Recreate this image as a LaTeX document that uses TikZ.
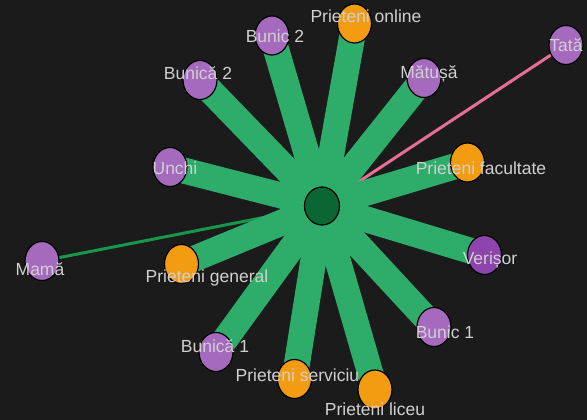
\documentclass[tikz,border=0pt]{standalone}
\usepackage{fontspec}
\setmainfont{Liberation Sans}
\usetikzlibrary{shapes.geometric}
\pgfdeclarelayer{bg}
\pgfdeclarelayer{edges}
\pgfsetlayers{bg,edges,main}
\definecolor{bgc}{RGB}{27,27,27}
\definecolor{band}{RGB}{46,173,106}
\definecolor{hub}{RGB}{10,102,50}
\definecolor{orng}{RGB}{243,156,18}
\definecolor{purp}{RGB}{165,105,189}
\definecolor{dpurp}{RGB}{142,68,173}
\definecolor{pinkc}{RGB}{228,110,150}
\definecolor{dgreen}{RGB}{24,150,74}
\definecolor{txt}{RGB}{208,208,208}
\tikzset{
  vert/.style={ellipse, draw=black, line width=1.2pt, minimum width=34pt, minimum height=39pt, inner sep=0pt},
  fam/.style={vert, fill=purp},
  famd/.style={vert, fill=dpurp},
  frnd/.style={vert, fill=orng},
  hubnode/.style={vert, fill=hub, minimum width=35pt, minimum height=38pt},
  lbl/.style={text=txt, font=\fontsize{17.5}{20}\selectfont, anchor=base, inner sep=0pt},
  thick band/.style={draw=band, line width=26pt, line cap=butt},
  thin link/.style={line width=3pt}
}
\begin{document}
\begin{tikzpicture}[x=1pt,y=-1pt]
\begin{pgfonlayer}{bg}
\fill[bgc] (0,0) rectangle (587,420);
\end{pgfonlayer}
\useasboundingbox (0,0) rectangle (587,420);
% nodes
\node[hubnode] (c) at (322,206) {};
\node[frnd] (po) at (354.5,23.5) {};
\node[fam] (b2) at (272,35.5) {};
\node[fam] (ba2) at (200,80) {};
\node[fam] (ma) at (424,78) {};
\node[fam] (ta) at (566,45) {};
\node[fam] (un) at (170,167) {};
\node[frnd] (pf) at (467.5,162.5) {};
\node[fam] (mm) at (42,261) {};
\node[frnd] (pg) at (181.5,264) {};
\node[famd] (ve) at (484.5,255) {};
\node[fam] (bu1) at (434,327) {};
\node[fam] (ba1) at (216,352) {};
\node[frnd] (ps) at (294.5,379) {};
\node[frnd] (pl) at (375,389.5) {};
% edges
\begin{pgfonlayer}{edges}
\draw[thin link, draw=dgreen] (c.center) -- (mm.center);
\draw[thin link, draw=pinkc] (c.center) -- (ta.center);
\foreach \n in {po,b2,ba2,ma,un,pf,pg,ve,bu1,ba1,ps,pl}
  \draw[thick band] (c.center) -- (\n.center);
\end{pgfonlayer}
% labels
\node[lbl] (lpo) at (366,23) {Prieteni online};
\node[lbl] (lb2) at (275,43) {Bunic 2};
\node[lbl] (lba2) at (198,80) {Bunică 2};
\node[lbl] (lma) at (429,79) {Mătușă};
\node[lbl] (lta) at (566,52) {Tată};
\node[lbl] (lun) at (175,175) {Unchi};
\node[lbl] (lpf) at (481,174) {Prieteni facultate};
\node[lbl] (lmm) at (40,275) {Mamă};
\node[lbl] (lpg) at (207,282) {Prieteni general};
\node[lbl] (lve) at (490,264) {Verișor};
\node[lbl] (lbu1) at (445,338) {Bunic 1};
\node[lbl] (lba1) at (215,352) {Bunică 1};
\node[lbl] (lps) at (297.5,381) {Prieteni serviciu};
\node[lbl] (lpl) at (375,415) {Prieteni liceu};
\end{tikzpicture}
\end{document}
